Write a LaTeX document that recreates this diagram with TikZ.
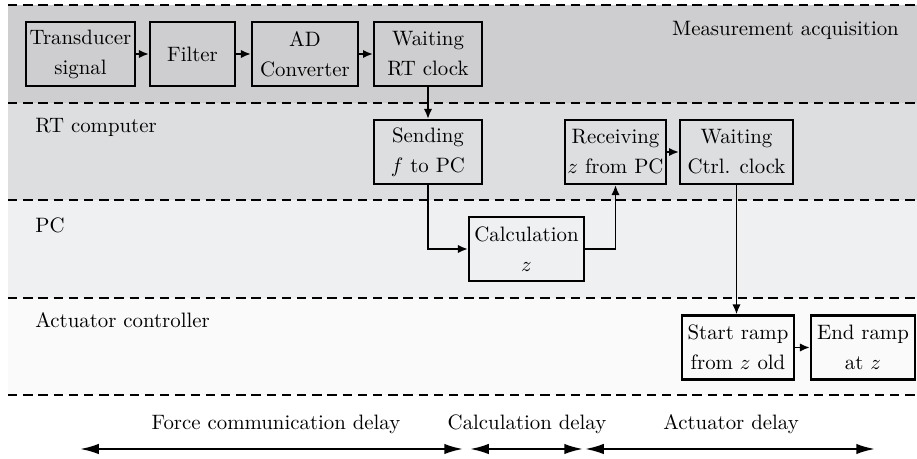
\documentclass[tikz,border=0pt]{standalone}
\usetikzlibrary{arrows.meta}

\definecolor{measgray}{RGB}{206,206,208}
\definecolor{rtgray}{RGB}{221,222,224}
\definecolor{pcgray}{RGB}{239,240,242}
\definecolor{actgray}{RGB}{250,250,250}

\tikzset{
  block/.style={draw, line width=1pt, align=center, minimum height=30.7pt, inner sep=1pt},
  flow/.style={line width=0.9pt, -{Latex[length=4.8pt,width=4pt]}},
  lanesep/.style={line width=0.9pt, dash pattern=on 4.5pt off 2.8pt},
  span/.style={line width=1pt, {Latex[length=9pt,width=5pt]}-{Latex[length=9pt,width=5pt]}},
}

\begin{document}
\begin{tikzpicture}[x=0.48pt, y=-0.48pt]
  \useasboundingbox (0,0) rectangle (917,459);
  % lanes
  \fill[measgray] (8,5) rectangle (917,103);
  \fill[rtgray] (8,103) rectangle (917,200);
  \fill[pcgray] (8,200) rectangle (917,298);
  \fill[actgray] (8,298) rectangle (917,395);
  \foreach \y in {5,103,200,298,395}
    \draw[lanesep] (8,\y) -- (917,\y);

  \node[anchor=base] (measlbl) at (785.5,36) {Measurement acquisition};
  \node[anchor=base west, inner sep=0pt] (rtlbl) at (35,133) {RT computer};
  \node[anchor=base west, inner sep=0pt] (pclbl) at (35,233) {PC};
  \node[anchor=base west, inner sep=0pt] (actlbl) at (35,328) {Actuator controller};

  % measurement acquisition
  \node[block, minimum width=52.3pt] (trans) at (80.5,54) {Transducer\\[2.4pt]signal};
  \node[block, minimum width=40.8pt] (filter) at (192.5,54) {Filter};
  \node[block, minimum width=50.9pt] (adc) at (305,54) {AD\\[2.4pt]Converter};
  \node[block, minimum width=51.8pt] (rtwait) at (428,54) {Waiting\\[2.4pt]RT clock};

  % RT computer
  \node[block, minimum width=51.8pt] (send) at (428,152) {Sending\\[2.4pt]$f$ to PC};
  \node[block, minimum width=47.5pt] (recv) at (615.5,152) {Receiving\\[2.4pt]$z$ from PC};
  \node[block, minimum width=54.2pt] (ctrlwait) at (736.5,152) {Waiting\\[2.4pt]Ctrl. clock};

  % PC
  \node[block, minimum width=55.2pt] (calc) at (526.5,249) {Calculation\\[2.4pt]$z$};

  % actuator controller
  \node[block, minimum width=53.8pt] (start) at (738,347.5) {Start ramp\\[2.4pt]from $z$ old};
  \node[block, minimum width=50pt] (end) at (863,347.5) {End ramp\\[2.4pt]at $z$};

  \draw[flow] (trans) -- (filter);
  \draw[flow] (filter) -- (adc);
  \draw[flow] (adc) -- (rtwait);
  \draw[flow] (rtwait) -- (send);
  \draw[flow] (send.south) |- (calc.west);
  \draw[flow] (calc.east) -| (recv.south);
  \draw[flow] (recv) -- (ctrlwait);
  \draw[flow] (ctrlwait.south) -- (ctrlwait.south |- start.north);
  \draw[flow] (start) -- (end);

  % delays
  \coordinate (f0) at (80,449);
  \coordinate (f1) at (463,449);
  \coordinate (c0) at (470,449);
  \coordinate (c1) at (583,449);
  \coordinate (a0) at (585,449);
  \coordinate (a1) at (875,449);
  \draw[span] (f0) -- (f1);
  \draw[span] (c0) -- (c1);
  \draw[span] (a0) -- (a1);
  \node[anchor=base] (flbl) at (276,430) {Force communication delay};
  \node[anchor=base] (clbl) at (527,430) {Calculation delay};
  \node[anchor=base] (albl) at (731,430) {Actuator delay};
\end{tikzpicture}
\end{document}
